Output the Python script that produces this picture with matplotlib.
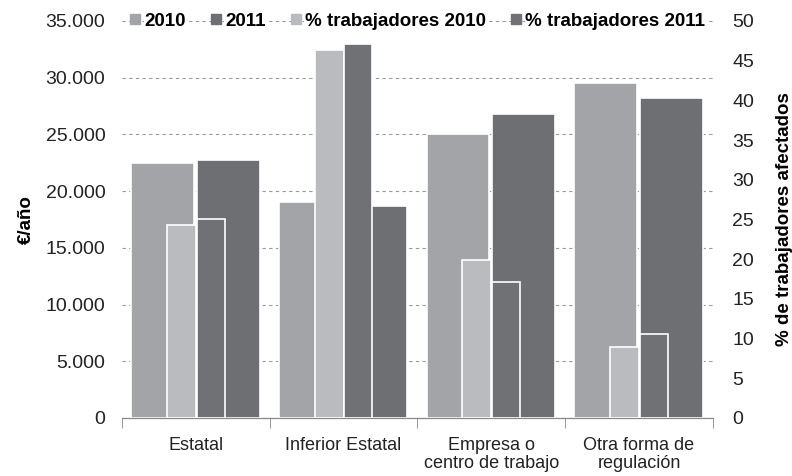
import matplotlib.pyplot as plt
import numpy as np
from matplotlib.lines import Line2D

plt.rcParams['font.family'] = ['Liberation Sans', 'DejaVu Sans']

categorias = ['Estatal', 'Inferior Estatal', 'Empresa o\ncentro de trabajo', 'Otra forma de\nregulación']
euros_2010 = [22500, 19000, 25000, 29500]
euros_2011 = [22700, 18700, 26800, 28200]
pct_2010 = [24.3, 46.4, 19.9, 8.9]
pct_2011 = [25.0, 47.1, 17.1, 10.6]

c2010 = '#a3a4a8'
c2011 = '#6e6f73'
cp2010 = '#babbbf'
cp2011 = '#707175'

x = np.arange(len(categorias))

fig = plt.figure(figsize=(7.92, 4.76), dpi=100)
ax = fig.add_axes([0.154, 0.122, 0.746, 0.834])
ax2 = ax.twinx()

ax.bar(x - 0.225, euros_2010, 0.425, color=c2010, edgecolor='white', linewidth=1.2, zorder=3)
ax.bar(x + 0.22, euros_2011, 0.425, color=c2011, edgecolor='white', linewidth=1.2, zorder=3)
ax2.bar(x - 0.098, pct_2010, 0.196, color=cp2010, edgecolor='white', linewidth=1.2, zorder=3)
ax2.bar(x + 0.10, pct_2011, 0.19, color=cp2011, edgecolor='white', linewidth=1.2, zorder=3)

ax.set_xlim(-0.5, 3.5)
ax.set_ylim(0, 35000)
ax2.set_ylim(0, 50)
ax.set_yticks(np.arange(0, 35001, 5000))
ax.set_yticklabels([f'{v:,}'.replace(',', '.') for v in range(0, 35001, 5000)], fontsize=14, color='#222222')
ax2.set_yticks(np.arange(0, 51, 5))
ax2.set_yticklabels([str(v) for v in range(0, 51, 5)], fontsize=14, color='#222222')
ax.grid(axis='y', linestyle=(0, (3, 3)), color='#999999', linewidth=0.8, zorder=0)

ax.set_xticks(x)
ax.set_xticklabels(categorias, fontsize=13, color='#222222', linespacing=1.05)
ax.tick_params(axis='x', length=0, pad=14)
ax.set_xticks(np.arange(-0.5, 3.6, 1), minor=True)
ax.tick_params(axis='x', which='minor', length=7, color='#888888')
ax.tick_params(axis='y', length=0, pad=12)
ax2.tick_params(axis='y', length=0, pad=14)

for a in (ax, ax2):
    for s in ('top', 'left', 'right'):
        a.spines[s].set_visible(False)
    a.spines['bottom'].set_color('#888888')

ax.set_ylabel('€/año', fontsize=13.5, fontweight='bold', labelpad=8)
ax2.set_ylabel('% de trabajadores afectados', fontsize=13.5, fontweight='bold', labelpad=16)

handles = [Line2D([], [], marker='s', linestyle='none', markersize=7, color=c)
           for c in (c2010, c2011, cp2010, cp2011)]
labels = ['2010', '2011', '% trabajadores 2010', '% trabajadores 2011']
leg = ax2.legend(handles, labels, loc='center', bbox_to_anchor=(0.5, 1.0), ncol=4,
                 frameon=False, handlelength=0.6, handletextpad=0.2, columnspacing=1.3,
                 prop={'weight': 'bold', 'size': 13.5})
for t in leg.get_texts():
    t.set_bbox(dict(facecolor='white', edgecolor='none', pad=0.5))

fig.savefig('out.png', dpi=100)
